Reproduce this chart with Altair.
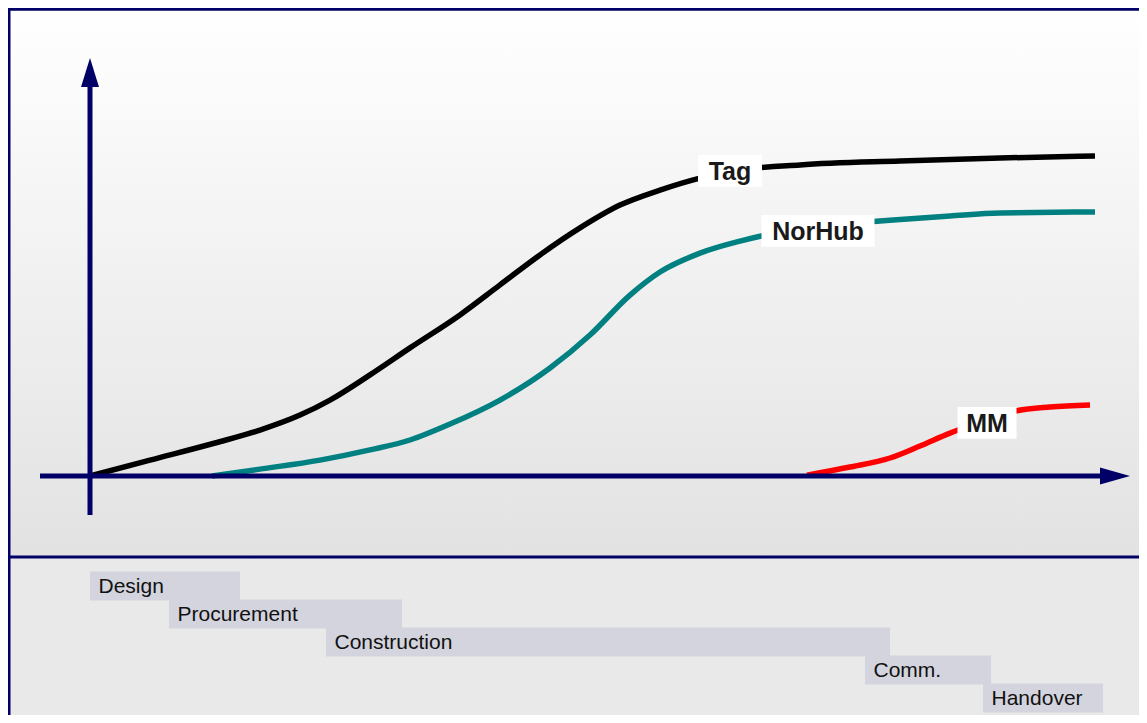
import altair as alt
import pandas as pd

# ---------------- data ----------------
# time axis (0 = project start), progress axis (0 = baseline)
tag_t = [0, 6, 12.5, 17, 21, 24, 28, 32, 37, 41, 45, 49, 53, 57, 61, 65, 71, 81, 91, 100.5]
tag_v = [0, 5.3, 11, 15.3, 20.3, 25.3, 33.7, 42.7, 53.7, 63.7, 73.7, 82.7, 90.3, 95.3, 99.3, 102, 103.7, 105, 106, 106.7]

norhub_t = [12.2, 17, 23, 28, 32, 36, 41, 46, 50, 54, 57, 61, 65, 69, 74, 79, 86, 91, 100.5]
norhub_v = [0, 2.3, 5.3, 8.7, 12, 17.3, 25.3, 36, 47, 60.3, 68, 74.3, 78.3, 81.3, 83.7, 85, 86.7, 87.7, 88]

mm_t = [71.7, 76, 80, 83, 86, 89, 92, 96, 100]
mm_v = [0.3, 3, 6, 10, 14.3, 18, 21.3, 23, 23.7]

series_names = ["Tag", "NorHub", "MM"]
series_colors = ["#000000", "#008080", "#ff0000"]

phase_names = ["Design", "Procurement", "Construction", "Comm.", "Handover"]
phase_start = [0, 7.9, 23.6, 77.5, 89.3]
phase_end = [15, 31.2, 80, 90.1, 101.3]

# label annotations (t centre, v centre, box half-width in t)
label_t = [64.0, 72.8, 89.7]
label_v = [101.7, 81.7, 17.7]
label_hw = [3.2, 5.65, 2.95]

# ---------------- scales ----------------
W, H = 1131, 707
X_MIN, X_MAX = -8.2, -8.2 + W / 10
Y_MAX = 156.0
Y_MIN = Y_MAX - H / 3
NAVY = "#000066"

xs = alt.Scale(domain=[X_MIN, X_MAX], nice=False, zero=False)
ys = alt.Scale(domain=[Y_MIN, Y_MAX], nice=False, zero=False)
X = lambda f: alt.X(f, scale=xs, axis=None)
Y = lambda f: alt.Y(f, scale=ys, axis=None)

one = pd.DataFrame({"a": [0]})
DIV = -27.0

# backgrounds
grad = alt.Gradient(
    gradient="linear",
    stops=[alt.GradientStop(color="#ffffff", offset=0),
           alt.GradientStop(color="#e2e2e2", offset=1)],
    x1=0, x2=0, y1=0, y2=1,
)
bg_top = alt.Chart(one).mark_rect(fill=grad).encode(
    x=alt.X(datum=X_MIN, scale=xs, axis=None), x2=alt.datum(X_MAX),
    y=alt.Y(datum=Y_MAX, scale=ys, axis=None), y2=alt.datum(DIV),
)
bg_bot = alt.Chart(one).mark_rect(fill="#e9e9e9").encode(
    x=alt.X(datum=X_MIN, scale=xs, axis=None), x2=alt.datum(X_MAX),
    y=alt.Y(datum=DIV, scale=ys, axis=None), y2=alt.datum(Y_MIN),
)

# phases
row_h = 29 / 3
ph = pd.DataFrame({
    "name": phase_names,
    "s": phase_start,
    "e": phase_end,
    "top": [-(95.5 + 28 * i) / 3 for i in range(len(phase_names))],
})
ph["bot"] = ph["top"] - row_h
ph["mid"] = (ph["top"] + ph["bot"]) / 2
ph["tx"] = ph["s"] + 0.85
phase_bars = alt.Chart(ph).mark_rect(fill="#d3d3dd", opacity=0.95).encode(
    x=X("s:Q"), x2="e:Q", y=Y("top:Q"), y2="bot:Q"
)
phase_text = alt.Chart(ph).mark_text(
    align="left", baseline="middle", font="Liberation Sans", fontSize=21, color="#111111", dy=1
).encode(x=X("tx:Q"), y=Y("mid:Q"), text="name:N")

# curves
rows = []
for n, ts, vs in zip(series_names, [tag_t, norhub_t, mm_t], [tag_v, norhub_v, mm_v]):
    for t, v in zip(ts, vs):
        rows.append({"series": n, "t": t, "v": v})
curves_df = pd.DataFrame(rows)
curves = alt.Chart(curves_df).mark_line(interpolate="monotone", strokeWidth=5.5, strokeCap="butt").encode(
    x=X("t:Q"), y=Y("v:Q"),
    color=alt.Color("series:N", scale=alt.Scale(domain=series_names, range=series_colors), legend=None),
    detail="series:N",
)

# axes
axes_df = pd.DataFrame({
    "x1": [-5.0, 0.0], "x2": [101.0, 0.0],
    "y1": [0.0, -13.0], "y2": [0.0, 130.0],
})
axis_rules = alt.Chart(axes_df).mark_rule(color=NAVY, strokeWidth=5, strokeCap="butt").encode(
    x=X("x1:Q"), x2="x2:Q", y=Y("y1:Q"), y2="y2:Q"
)
up_head = alt.Chart(one).mark_point(
    shape="M-0.62,1L0.62,1L0,-1Z", size=841, filled=True, fill=NAVY, stroke=None, opacity=1
).encode(x=alt.X(datum=0, scale=xs, axis=None), y=alt.Y(datum=134.5, scale=ys, axis=None))
right_head = alt.Chart(one).mark_point(
    shape="M-1,-0.57L1,0L-1,0.57Z", size=900, filled=True, fill=NAVY, stroke=None, opacity=1
).encode(x=alt.X(datum=102.5, scale=xs, axis=None), y=alt.Y(datum=0, scale=ys, axis=None))

# labels
lab = pd.DataFrame({"name": series_names, "t": label_t, "v": label_v, "hw": label_hw})
lab["x1"] = lab["t"] - lab["hw"]
lab["x2"] = lab["t"] + lab["hw"]
lab["y1"] = lab["v"] - 5.3
lab["y2"] = lab["v"] + 5.3
lab_box = alt.Chart(lab).mark_rect(fill="white").encode(
    x=X("x1:Q"), x2="x2:Q", y=Y("y1:Q"), y2="y2:Q"
)
lab_text = alt.Chart(lab).mark_text(
    font="Liberation Sans", fontWeight="bold", fontSize=25, color="#1a1a1a", baseline="middle", dy=1
).encode(x=X("t:Q"), y=Y("v:Q"), text="name:N")

# frame lines
frame_df = pd.DataFrame({
    "x1": [X_MIN, X_MIN + 0.1, X_MIN],
    "x2": [X_MAX, X_MIN + 0.1, X_MAX],
    "y1": [Y_MAX - 0.4, Y_MIN, DIV],
    "y2": [Y_MAX - 0.4, Y_MAX, DIV],
})
frame = alt.Chart(frame_df).mark_rule(color=NAVY, strokeWidth=3).encode(
    x=X("x1:Q"), x2="x2:Q", y=Y("y1:Q"), y2="y2:Q"
)

chart = alt.layer(
    bg_top, bg_bot, phase_bars, phase_text, curves, axis_rules, up_head, right_head,
    lab_box, lab_text, frame
).properties(
    width=W, height=H, padding=0, autosize=alt.AutoSizeParams(type="none")
).configure_view(stroke=None)

chart.save("out.html", embed_options={"renderer": "svg", "actions": False})
